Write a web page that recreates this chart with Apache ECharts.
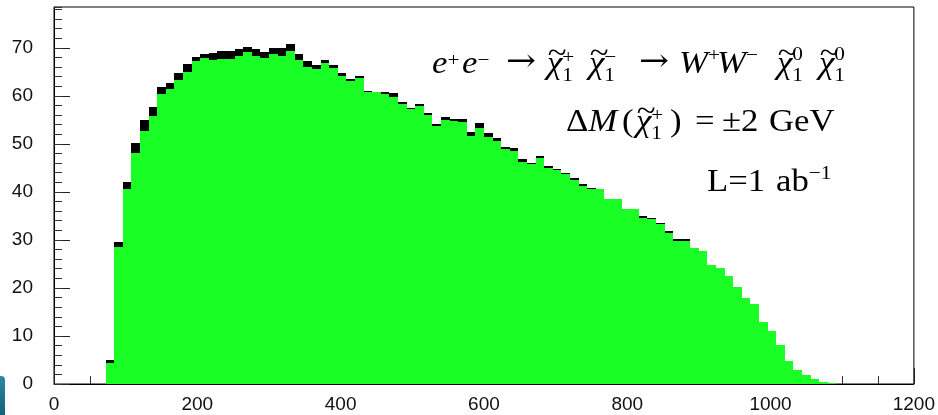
<!DOCTYPE html>
<html>
<head>
<meta charset="utf-8">
<style>
  html, body { margin: 0; padding: 0; background: #fff; }
  #chart { width: 938px; height: 415px; }
</style>
<script src="https://cdn.jsdelivr.net/npm/echarts@6/dist/echarts.min.js"></script>
</head>
<body>
<div id="chart"></div>
<script>
// Histogram binning: fixed-width bins, first filled bin starts at 72.
const binWidth = 12;
const firstBinLow = 72;

// Bin contents for the two mass hypotheses (dark one drawn behind).
const countsDark = [
  5.0, 29.6, 42.0, 50.1, 54.9, 57.6, 61.9, 62.6, 64.7, 66.6,
  68.0, 68.7, 69.0, 69.3, 69.4, 69.7, 70.1, 69.8, 69.2, 70.0,
  69.9, 70.7, 68.7, 67.2, 66.5, 67.4, 66.5, 64.7, 63.6, 64.2,
  61.0, 60.9, 60.8, 60.6, 58.8, 57.5, 58.3, 56.5, 54.2, 55.5,
  55.2, 55.1, 52.5, 54.3, 52.3, 51.2, 49.3, 49.1, 46.8, 46.1,
  47.5, 45.4, 44.85, 44.0, 42.8, 41.7, 40.9, 40.6, 38.4, 38.4,
  36.3, 36.4, 34.9, 34.6, 33.6, 31.9, 30.1, 30.1, 28.2, 27.5,
  24.7, 24.0, 22.4, 20.2, 17.8, 16.5, 12.8, 10.9, 8.0, 4.7,
  2.8, 1.8, 1.0, 0.45, 0.15
];
const countsGreen = [
  4.3, 28.5, 40.7, 48.2, 52.7, 55.8, 60.3, 61.4, 63.3, 64.9,
  67.2, 67.8, 67.5, 67.7, 67.7, 68.3, 69.1, 68.2, 67.9, 68.75,
  68.2, 69.3, 67.5, 66.1, 65.6, 66.8, 65.8, 64.2, 63.1, 63.7,
  60.8, 60.7, 60.4, 59.8, 58.4, 57.3, 57.9, 56.0, 53.7, 55.0,
  54.8, 54.6, 51.7, 53.3, 51.5, 50.6, 48.9, 48.6, 46.3, 45.8,
  47.1, 45.0, 44.6, 43.7, 42.5, 41.3, 40.6, 40.7, 38.5, 38.5,
  36.4, 36.5, 34.5, 34.3, 33.3, 31.5, 29.8, 29.8, 28.3, 27.6,
  24.8, 24.1, 22.5, 20.3, 17.85, 16.6, 12.9, 11.0, 8.1, 4.8,
  2.9, 1.9, 1.05, 0.5, 0.2
];

// Axis ranges and ticks
const xRange = [0, 1200];
const xMajorStep = 200;
const yRange = [0, 78.5];
const yMajorStep = 10;
const yMinorStep = 2;

function toBins(counts) {
  return counts.map(function (c, i) {
    const lo = firstBinLow + i * binWidth;
    return [lo, lo + binWidth, c];
  });
}

function histRenderer(color) {
  return function (params, api) {
    const p0 = api.coord([api.value(0), 0]);
    const p1 = api.coord([api.value(1), api.value(2)]);
    const left = Math.round(p0[0]);
    const right = Math.round(p1[0]);
    const top = Math.round(p1[1]);
    const bottom = Math.round(p0[1]);
    return {
      type: 'rect',
      shape: { x: left, y: top, width: right - left, height: bottom - top },
      style: { fill: color }
    };
  };
}

// ---- Formula text, laid out piece by piece (stacked scripts, tildes) ----
const SERIF = '"Liberation Serif", "DejaVu Serif", serif';
const ARROW_FONT = '"DejaVu Serif", serif';
const STRETCH = 1.12;   // glyphs are set slightly wide
const mctx = document.createElement('canvas').getContext('2d');
function fontOf(size, italic, fam) { return (italic ? 'italic ' : '') + size + 'px ' + (fam || SERIF); }
function widthOf(str, size, italic, fam) { mctx.font = fontOf(size, italic, fam); return mctx.measureText(str).width * STRETCH; }
const BASE_SHIFT = 0.34;

function put(out, str, x, baseline, size, italic, fam) {
  out.push({
    type: 'text', x: x, y: baseline - BASE_SHIFT * size, scaleX: STRETCH, silent: true, z: 10,
    style: { text: str, font: fontOf(size, italic, fam), fill: '#000', align: 'left', verticalAlign: 'middle' }
  });
  return widthOf(str, size, italic, fam);
}

// Each part either continues from the pen position or starts at its own x ("at").
function formula(baseline, size, parts) {
  const out = [];
  const ss = Math.round(size * 0.62);
  let cx = 0;
  parts.forEach(function (p) {
    if (p.at !== undefined) cx = p.at;
    if (p.t) {
      const sz = p.size || size;
      const w = put(out, p.t, cx, baseline + (p.dy || 0), sz, p.it, p.fam);
      if (p.tilde) {
        const tw = widthOf('~', size, false);
        put(out, '~', cx + w / 2 - tw / 2 + size * 0.08, baseline - size * 0.30, size, false);
      }
      cx += w;
    }
    if (p.sup || p.sub) {
      let w = 0;
      const dx = p.supDx || 0;
      if (p.sup) w = Math.max(w, put(out, p.sup, cx + dx, baseline - size * (p.rise || 0.42), ss, false) + dx);
      if (p.sub) w = Math.max(w, put(out, p.sub, cx, baseline + size * 0.25, ss, false));
      cx += w + 1;
    }
  });
  return out;
}

const line1 = formula(75, 31, [
  { at: 432, t: 'e', it: true }, { sup: '+', rise: 0.25 },
  { at: 462, t: 'e', it: true }, { sup: '\u2212', rise: 0.25 },
  { at: 506, t: '\u2192', fam: ARROW_FONT, size: 32, dy: -1 },
  { at: 547, t: '\u03c7', it: true, tilde: true }, { sup: '+', sub: '1', rise: 0.33 },
  { at: 589, t: '\u03c7', it: true, tilde: true }, { sup: '\u2212', sub: '1', rise: 0.33 },
  { at: 639, t: '\u2192', fam: ARROW_FONT, size: 32, dy: -1 },
  { at: 679, t: 'W', it: true }, { sup: '+', rise: 0.4 },
  { at: 717, t: 'W', it: true }, { sup: '\u2212', rise: 0.4 },
  { at: 777, t: '\u03c7', it: true, tilde: true }, { sup: '0', sub: '1', rise: 0.43 },
  { at: 819, t: '\u03c7', it: true, tilde: true }, { sup: '0', sub: '1', rise: 0.43 }
]);
const line2 = formula(133, 31, [
  { at: 566, t: '\u0394' }, { t: 'M', it: true },
  { at: 622, t: '(' },
  { at: 636, t: '\u03c7', it: true, tilde: true }, { sup: '+', sub: '1', rise: 0.33 },
  { at: 670, t: ')' },
  { at: 695, t: '=' },
  { at: 722, t: '\u00b12' },
  { at: 769, t: 'GeV' }
]);
const line3 = formula(193, 31, [
  { at: 707, t: 'L=1' }, { at: 776, t: 'ab' }, { sup: '\u22121', rise: 0.4 }
]);

const chart = echarts.init(document.getElementById('chart'), null, { renderer: 'canvas' });

const labelFont = { fontFamily: '"Liberation Sans", Arial, sans-serif', fontSize: 19, color: '#111' };

chart.setOption({
  animation: false,
  backgroundColor: '#fff',
  grid: { left: 54, right: 22, top: 7, bottom: 31, show: true, borderColor: '#000', borderWidth: 1, backgroundColor: 'transparent' },
  xAxis: {
    type: 'value', min: xRange[0], max: xRange[1], interval: xMajorStep,
    axisLine: { show: true, lineStyle: { color: '#000', width: 1 } },
    axisTick: { show: true, inside: true, length: 16, lineStyle: { color: '#222' } },
    minorTick: { show: true, splitNumber: 4, length: 8, lineStyle: { color: '#333' } },
    splitLine: { show: false },
    axisLabel: Object.assign({ margin: 11, formatter: function (v) { return String(v); } }, labelFont)
  },
  yAxis: [
    {
      type: 'value', position: 'left', min: yRange[0], max: yRange[1], interval: yMajorStep,
      axisLine: { show: true, lineStyle: { color: '#000', width: 1 } },
      axisTick: { show: true, inside: true, length: 16, lineStyle: { color: '#222' } },
      splitLine: { show: false },
      axisLabel: Object.assign({ margin: 21, showMaxLabel: false, formatter: function (v) { return String(v); } }, labelFont)
    },
    {
      type: 'value', position: 'left', min: yRange[0], max: yRange[1], interval: yMinorStep,
      axisLine: { show: false },
      axisTick: { show: true, inside: true, length: 8, lineStyle: { color: '#333' } },
      splitLine: { show: false },
      axisLabel: { show: false }
    }
  ],
  series: [
    {
      type: 'custom', name: 'dark', renderItem: histRenderer('#000000'),
      encode: { x: [0, 1], y: 2 }, data: toBins(countsDark), z: 2, silent: true
    },
    {
      type: 'custom', name: 'green', renderItem: histRenderer('#19ff26'),
      encode: { x: [0, 1], y: 2 }, data: toBins(countsGreen), z: 3, silent: true
    }
  ],
  graphic: [
    {
      type: 'rect', left: 0, bottom: 0, silent: true,
      shape: { width: 5, height: 39, r: [0, 4, 0, 0] },
      style: { fill: new echarts.graphic.LinearGradient(0, 0, 0, 1, [
        { offset: 0, color: '#2a8aa6' }, { offset: 1, color: '#15607c' }
      ]) }
    }
  ].concat(line1, line2, line3)
});
</script>
</body>
</html>
